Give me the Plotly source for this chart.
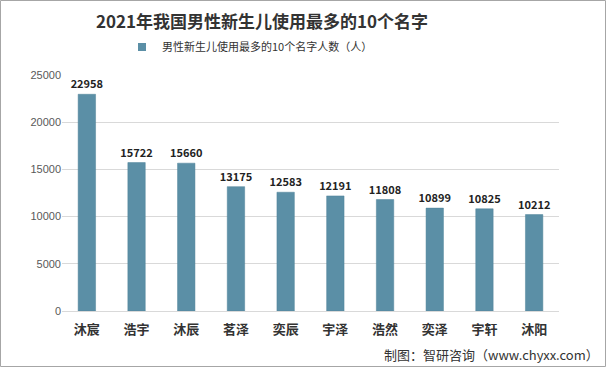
import plotly.graph_objects as go

names = ["沐宸", "浩宇", "沐辰", "茗泽", "奕辰", "宇泽", "浩然", "奕泽", "宇轩", "沐阳"]
counts = [22958, 15722, 15660, 13175, 12583, 12191, 11808, 10899, 10825, 10212]
series_name = "男性新生儿使用最多的10个名字人数（人）"
y_ticks = [0, 5000, 10000, 15000, 20000, 25000]

W, H = 606, 367
L, R, T, B = 62, 47, 75, 56
pw, ph = W - L - R, H - T - B

font = "Noto Sans CJK SC"
bar_color = "#5B8FA6"

fig = go.Figure()
fig.add_trace(go.Bar(
    x=names, y=counts, name=series_name, showlegend=False,
    marker=dict(color=bar_color, line=dict(color="#4F8399", width=0.5)),
    text=[str(v) for v in counts], textposition="outside",
    textfont=dict(family=font, size=11, color="#222222"),
    texttemplate="<b>%{text}</b>", cliponaxis=False, constraintext="none",
))
fig.add_trace(go.Scatter(
    x=[None], y=[None], mode="markers", name=series_name,
    marker=dict(symbol="square", size=8, color=bar_color),
))

fig.update_layout(
    width=W, height=H,
    margin=dict(l=L, r=R, t=T, b=B),
    paper_bgcolor="white", plot_bgcolor="white",
    bargap=0.65,
    showlegend=True,
    legend=dict(orientation="h", x=(122 - L) / pw, xanchor="left", y=(H - B - 47) / ph, yanchor="middle",
                font=dict(family=font, size=11, color="#333333"), itemwidth=30),
    title=dict(text="<b>2021年我国男性新生儿使用最多的10个名字</b>", x=262 / W, xanchor="center",
               y=1 - 22 / H, yanchor="middle",
               font=dict(family=font, size=17, color="#333333")),
    xaxis=dict(showline=True, linecolor="#D9D9D9", linewidth=1, ticks="",
               ticklabelstandoff=6,
               tickfont=dict(family=font, size=13, color="#333333"),
               tickprefix="<b>", ticksuffix="</b>"),
    yaxis=dict(range=[0, 25000], tickvals=y_ticks, ticktext=[str(v) for v in y_ticks],
               showgrid=True, gridcolor="#D9D9D9",
               zeroline=False, tickfont=dict(family="Liberation Sans", size=11, color="#595959")),
    shapes=[dict(type="rect", xref="paper", yref="paper",
                 x0=(0.5 - L) / pw, x1=(W - 0.5 - L) / pw,
                 y0=(H - B - (H - 0.5)) / ph, y1=(H - B - 0.5) / ph,
                 line=dict(color="#A6A6A6", width=1), layer="below")],
    annotations=[dict(text="制图：智研咨询（www.chyxx.com）", xref="paper", yref="paper",
                      x=(W - 5 - L) / pw, xanchor="right",
                      y=(H - B - 354) / ph, yanchor="middle", showarrow=False,
                      font=dict(family=font, size=13, color="#333333"))],
)

fig.write_html("out.html", config={"displayModeBar": False},
               post_script="document.body.style.margin='0';document.body.style.overflow='hidden';")
